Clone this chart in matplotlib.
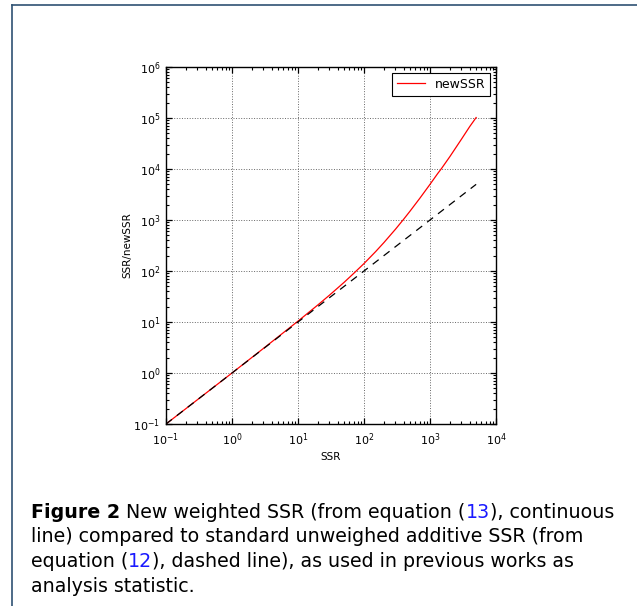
import matplotlib
matplotlib.use("Agg")
import matplotlib.pyplot as plt
from matplotlib.lines import Line2D
from matplotlib.ticker import LogLocator, NullFormatter

# Data
ssr = [0.1, 0.3, 1, 3, 10, 20, 30, 50, 70, 100, 150, 200, 300, 400, 500, 700,
       1000, 1300, 1500, 2000, 2500, 3000, 4000, 5000]
new_ssr = [0.1, 0.3, 1.0, 3.04, 10.4, 21.6, 33.6, 60, 90, 140, 240, 360, 660, 1040, 1500, 2660,
           5000, 8060, 10300, 17500, 27000, 38500, 68000, 102000]
ref_ssr = [0.1, 5000]
ref_val = [0.1, 5000]

xlim = (0.1, 1e4)
ylim = (0.1, 1e6)

plt.rcParams['font.family'] = ['DejaVu Sans']

fig = plt.figure(figsize=(6.37, 6.06), dpi=100)
W, H = 637, 606

ax = fig.add_axes([166 / W, 1 - 424 / H, (496 - 166) / W, (424 - 67) / H])
ax.set_xscale('log')
ax.set_yscale('log')
ax.plot(ssr, new_ssr, color='red', lw=0.9, label='newSSR')
ax.plot(ref_ssr, ref_val, color='black', lw=0.9, ls=(0, (6, 5)))
ax.set_xlim(*xlim)
ax.set_ylim(*ylim)
for a in (ax.xaxis, ax.yaxis):
    a.set_major_locator(LogLocator(base=10, numticks=20))
    a.set_minor_locator(LogLocator(base=10, subs=[2, 3, 4, 5, 6, 7, 8, 9], numticks=100))
    a.set_minor_formatter(NullFormatter())
ax.grid(True, which='major', color='0.4', ls=':', lw=0.7)
ax.tick_params(which='both', direction='in', top=True, right=True, labelsize=8)
ax.tick_params(axis='x', which='major', pad=5)
ax.tick_params(axis='y', which='major', pad=4)
ax.tick_params(which='major', length=4.5, width=0.9)
ax.tick_params(which='minor', length=2.5, width=0.8)
for s in ax.spines.values():
    s.set_linewidth(1.0)
ax.set_xlabel('SSR', fontsize=7.5, labelpad=3)
ax.set_ylabel('SSR/newSSR', fontsize=7.5, labelpad=1)
leg = ax.legend(loc='upper right', fontsize=9, fancybox=False, framealpha=1,
                edgecolor='black', borderaxespad=0.45, handlelength=2.2)
leg.get_frame().set_linewidth(0.8)

# page border (top and left)
fig.add_artist(Line2D([12 / W, 1], [1 - 5 / H, 1 - 5 / H], color='#2f5273', lw=1.2, transform=fig.transFigure))
fig.add_artist(Line2D([12 / W, 12 / W], [1 - 5 / H, 0], color='#2f5273', lw=1.2, transform=fig.transFigure))

# caption
lines = [
    [("Figure 2", 'bold', 'black'), (" New weighted SSR (from equation (", 'normal', 'black'),
     ("13", 'normal', '#1a1aff'), ("), continuous", 'normal', 'black')],
    [("line) compared to standard unweighed additive SSR (from", 'normal', 'black')],
    [("equation (", 'normal', 'black'), ("12", 'normal', '#1a1aff'),
     ("), dashed line), as used in previous works as", 'normal', 'black')],
    [("analysis statistic.", 'normal', 'black')],
]
fig.canvas.draw()
renderer = fig.canvas.get_renderer()
fs = 13.7
y0 = 518
for i, parts in enumerate(lines):
    x = 31
    y = y0 + i * 24.5
    for txt, weight, col in parts:
        t = fig.text(x / W, 1 - y / H, txt, fontsize=fs, fontweight=weight, color=col,
                     ha='left', va='baseline')
        bb = t.get_window_extent(renderer=renderer)
        x += bb.width
fig.savefig('out.png', dpi=100)
